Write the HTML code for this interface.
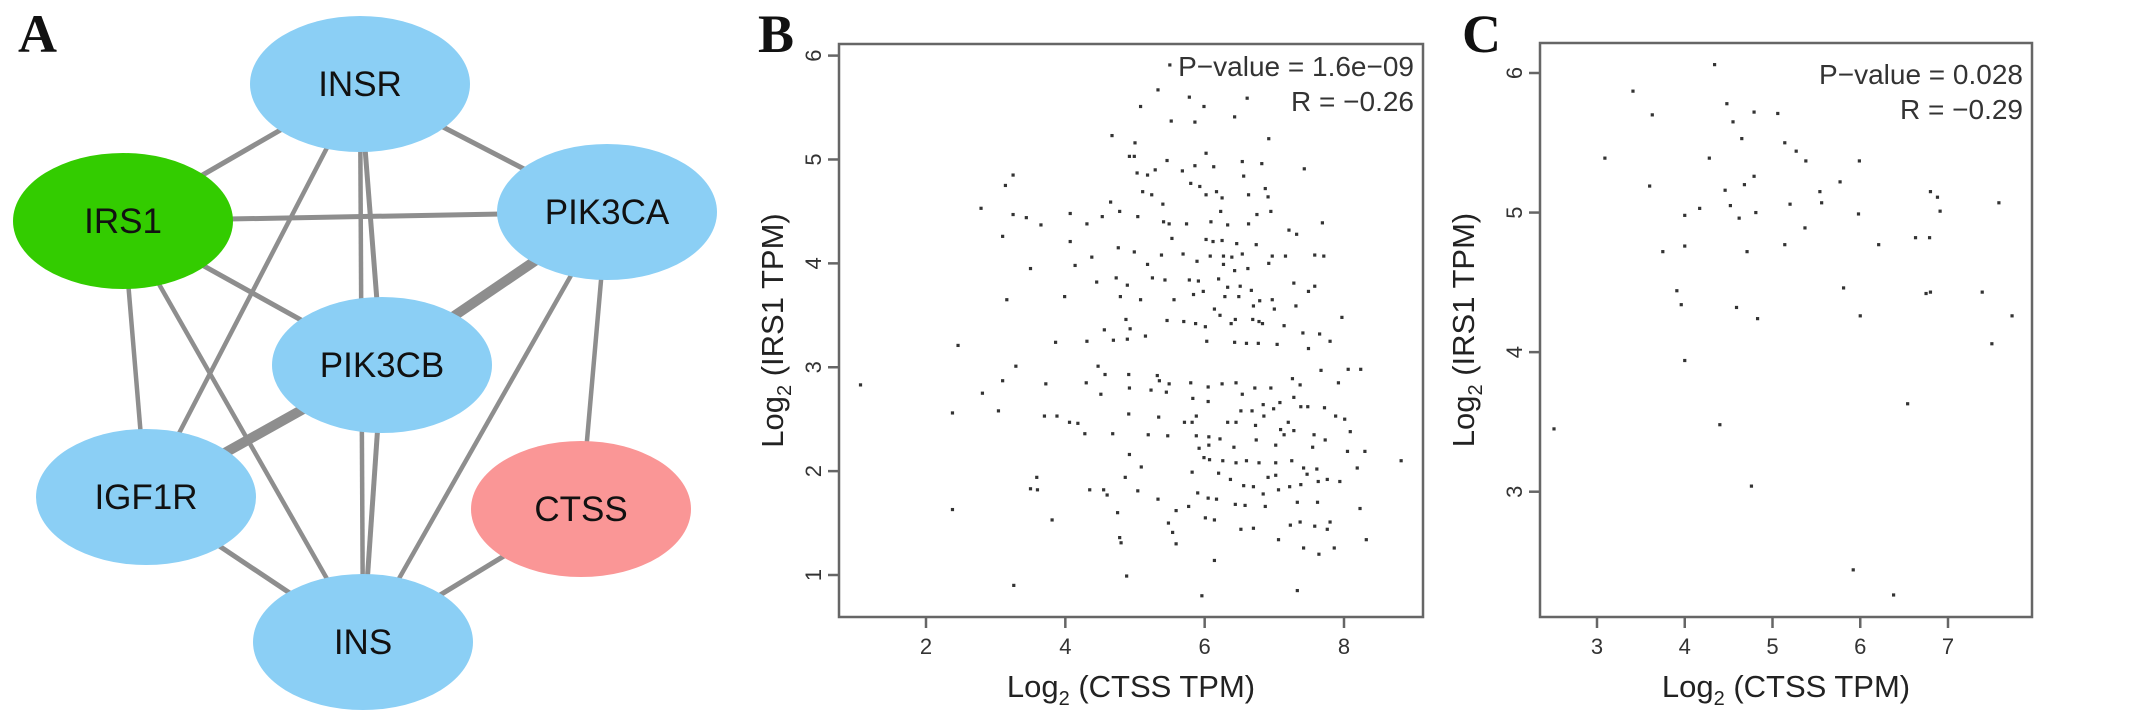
<!DOCTYPE html>
<html><head><meta charset="utf-8">
<style>
html,body{margin:0;padding:0;background:#fff;}
svg{display:block;font-family:"Liberation Sans",Arial,sans-serif;}
</style></head>
<body>
<svg id="fig" width="2150" height="725" viewBox="0 0 2150 725" xmlns="http://www.w3.org/2000/svg">
  <g id="panelA"></g>
  <g id="panelB"></g>
  <g id="panelC"></g>
</svg>
<script>
// ---------- Panel A: network data ----------
const nodeNames = ["INSR","IRS1","PIK3CA","PIK3CB","IGF1R","CTSS","INS"];
const nodeColors = ["#8bcff5","#33cc00","#8bcff5","#8bcff5","#8bcff5","#fa9696","#8bcff5"];
const nodeCx = [360,123,607,382,146,581,363];
const nodeCy = [84,221,212,365,497,509,642];
const edgeFrom = ["INSR","INSR","INSR","INSR","INSR","IRS1","IRS1","IRS1","IRS1","PIK3CA","PIK3CA","PIK3CA","PIK3CB","PIK3CB","IGF1R","CTSS"];
const edgeTo   = ["IRS1","PIK3CA","IGF1R","PIK3CB","INS","PIK3CA","PIK3CB","IGF1R","INS","PIK3CB","INS","CTSS","INS","IGF1R","INS","INS"];
const edgeWidth = [5,5,4.5,5,4.5,5,5,4.5,4.5,10,4.5,4.5,5,10,5,5];

// ---------- Panel B data ----------
const bx = [1.06,2.46,2.38,2.38,3.26,2.79,3.14,3.25,3.25,3.44,3.65,3.10,3.50,3.16,3.29,3.10,2.81,3.04,3.70,3.72,3.86,3.50,3.60,3.59,3.81,
5.50,5.33,5.78,6.61,5.08,5.99,6.43,5.52,5.86,4.67,6.92,5.00,4.92,4.99,6.02,6.54,6.82,5.46,5.03,5.18,5.29,5.68,5.86,6.13,7.43,6.56,5.80,5.93,6.87,5.11,5.24,6.17,6.25,6.02,6.63,6.91,4.65,5.40,6.23,4.07,4.78,5.04,4.53,5.41,5.49,4.31,5.74,6.09,6.33,6.63,6.75,6.95,7.21,7.32,7.69,4.07,5.53,6.02,6.12,6.25,6.46,6.74,4.76,4.99,5.38,5.69,6.08,6.27,6.39,6.54,6.97,7.16,7.58,7.71,4.38,4.14,5.18,5.89,6.27,6.43,6.62,6.92,4.73,4.45,4.89,5.25,5.43,5.78,5.91,6.20,6.33,6.51,6.67,7.28,7.49,7.58,5.84,5.98,6.29,6.49,6.79,6.97,3.99,4.79,5.08,5.56,6.14,6.22,6.70,7.00,7.31,6.69,6.78,4.87,4.93,5.15,5.46,5.70,5.87,6.01,6.38,6.44,6.83,7.14,7.41,7.65,7.97,4.56,4.31,4.69,4.89,6.03,6.43,6.60,6.77,7.04,7.49,7.80,8.24,8.06,4.47,4.57,4.91,5.32,5.35,5.49,5.80,6.05,6.25,6.45,6.72,6.95,7.26,7.37,7.67,7.92,4.30,4.51,4.92,5.23,5.45,5.83,6.05,6.54,6.84,7.08,7.28,7.48,7.72,3.88,4.91,5.34,5.88,6.52,6.68,6.85,6.99,7.20,7.38,7.88,8.01,4.06,4.18,4.28,4.68,5.19,5.47,5.71,5.82,6.33,6.45,6.73,7.09,7.28,7.57,8.09,5.88,6.06,6.22,6.74,7.14,7.73,5.92,6.06,6.42,7.02,7.55,6.07,6.26,6.45,6.60,6.78,7.02,7.25,7.42,7.61,8.05,8.30,8.19,8.82,4.92,5.09,5.99,5.82,6.20,5.04,4.86,4.55,4.60,5.33,5.77,5.90,6.05,6.17,6.37,6.56,6.70,6.84,6.91,7.06,7.22,7.38,7.47,7.63,7.76,7.94,7.02,6.44,6.58,6.70,6.87,7.33,7.62,8.23,4.75,5.59,6.01,6.14,5.48,6.52,7.23,7.37,7.58,7.76,7.80,4.78,4.80,5.59,7.06,7.42,7.64,7.86,8.32,6.14,4.88,7.33,5.96,5.54,4.35];
const by = [2.83,3.21,2.56,1.63,0.90,4.53,4.75,4.85,4.47,4.44,4.37,4.26,3.95,3.65,3.01,2.87,2.75,2.58,2.53,2.84,3.24,1.83,1.82,1.94,1.53,
5.91,5.67,5.60,5.59,5.51,5.51,5.41,5.37,5.36,5.23,5.20,5.16,5.03,5.03,5.06,4.98,4.96,4.99,4.87,4.85,4.90,4.89,4.94,4.93,4.91,4.84,4.77,4.74,4.72,4.69,4.66,4.69,4.63,4.66,4.66,4.64,4.59,4.57,4.50,4.48,4.50,4.45,4.45,4.40,4.38,4.38,4.38,4.40,4.37,4.38,4.47,4.50,4.32,4.28,4.39,4.21,4.24,4.23,4.21,4.22,4.19,4.18,4.15,4.11,4.08,4.09,4.07,4.07,4.06,4.09,4.07,4.07,4.08,4.07,4.06,3.98,3.99,4.02,3.99,3.93,3.95,4.00,3.86,3.82,3.79,3.86,3.84,3.84,3.83,3.85,3.77,3.78,3.74,3.81,3.73,3.78,3.70,3.73,3.68,3.68,3.64,3.65,3.68,3.68,3.65,3.65,3.56,3.50,3.59,3.56,3.59,3.46,3.44,3.46,3.37,3.30,3.45,3.44,3.42,3.39,3.42,3.46,3.42,3.40,3.33,3.32,3.48,3.36,3.25,3.26,3.27,3.25,3.24,3.23,3.23,3.22,3.18,3.25,2.98,2.98,3.01,2.93,2.93,2.92,2.87,2.84,2.85,2.81,2.84,2.85,2.80,2.80,2.89,2.83,2.97,2.85,2.85,2.74,2.80,2.78,2.76,2.70,2.67,2.74,2.64,2.66,2.71,2.62,2.61,2.53,2.55,2.52,2.53,2.58,2.58,2.53,2.60,2.47,2.62,2.53,2.50,2.47,2.46,2.36,2.36,2.35,2.34,2.47,2.47,2.47,2.47,2.44,2.40,2.39,2.35,2.38,2.34,2.33,2.31,2.30,2.35,2.30,2.22,2.25,2.23,2.25,2.23,2.11,2.10,2.08,2.10,2.08,2.08,2.10,2.03,2.02,2.19,2.19,2.03,2.10,2.16,2.04,2.13,1.99,1.98,1.81,1.94,1.82,1.77,1.73,1.66,1.79,1.74,1.73,1.92,1.86,1.85,1.78,1.94,1.82,1.85,1.87,1.97,1.90,1.92,1.90,1.96,1.68,1.67,1.45,1.66,1.70,1.70,1.64,1.60,1.62,1.55,1.53,1.50,1.44,1.48,1.51,1.47,1.44,1.51,1.36,1.31,1.30,1.34,1.26,1.20,1.26,1.34,1.14,0.99,0.85,0.80,1.41,1.82];
const bXTicks = [2,4,6,8];
const bYTicks = [1,2,3,4,5,6];
const bStats = ["P\u2212value = 1.6e\u221209","R = \u22120.26"];

// ---------- Panel C data ----------
const cx = [4.34,3.41,3.63,3.09,3.60,4.48,4.55,4.79,5.06,4.65,4.28,5.14,5.27,5.38,4.79,4.68,4.46,4.52,4.17,4.00,4.62,4.81,5.20,5.54,5.56,5.77,5.99,5.98,5.37,4.00,3.75,4.71,5.14,6.21,6.63,6.79,6.80,6.88,6.91,7.58,3.91,3.96,4.59,4.83,5.81,6.00,6.75,6.80,7.39,7.73,7.50,4.00,6.54,2.51,4.40,4.76,5.92,6.38];
const cy = [6.06,5.87,5.70,5.39,5.19,5.78,5.65,5.72,5.71,5.53,5.39,5.50,5.44,5.37,5.26,5.20,5.16,5.05,5.03,4.98,4.96,5.00,5.06,5.15,5.07,5.22,5.37,4.99,4.89,4.76,4.72,4.72,4.77,4.77,4.82,4.82,5.15,5.11,5.01,5.07,4.44,4.34,4.32,4.24,4.46,4.26,4.42,4.43,4.43,4.26,4.06,3.94,3.63,3.45,3.48,3.04,2.44,2.26];
const cXTicks = [3,4,5,6,7];
const cYTicks = [3,4,5,6];
const cStats = ["P\u2212value = 0.028","R = \u22120.29"];

const NS = "http://www.w3.org/2000/svg";
function mk(tag, attrs, parent){ const e=document.createElementNS(NS,tag); for(const k in attrs) e.setAttribute(k,attrs[k]); parent.appendChild(e); return e; }

// ---------- draw panel A ----------
const A = document.getElementById('panelA');
const lab = mk('text',{x:18,y:52,'font-family':'"Liberation Serif",serif','font-weight':'bold','font-size':54,fill:'#111'},A);
lab.textContent='A';


const idx = n => nodeNames.indexOf(n);
for(let i=0;i<edgeFrom.length;i++){
  const a=idx(edgeFrom[i]), b=idx(edgeTo[i]);
  const l=mk('line',{x1:nodeCx[a],y1:nodeCy[a],x2:nodeCx[b],y2:nodeCy[b],stroke:'#8e8e8e','stroke-width':edgeWidth[i]},A);
  
  
}
for(let i=0;i<nodeNames.length;i++){
  const g=mk('g',{},A);
  
  
  mk('ellipse',{cx:nodeCx[i],cy:nodeCy[i],rx:110,ry:68,fill:nodeColors[i]},g);
  const t=mk('text',{x:nodeCx[i],y:nodeCy[i]+12,'text-anchor':'middle','font-size':35,fill:'#111'},g);
  t.textContent=nodeNames[i];
}

// ---------- scatter helper ----------
function scatter(G, P, xs, ys, xt, yt, stats, letter, name){
  const sx = v => P.x0 + (v-P.xa)*(P.x1-P.x0)/(P.xb-P.xa);
  const sy = v => P.y0 + (v-P.ya)*(P.y1-P.y0)/(P.yb-P.ya);
  const L=mk('text',{x:P.letterX,y:52,'font-family':'"Liberation Serif",serif','font-weight':'bold','font-size':54,fill:'#111'},G);
  L.textContent=letter;
  
  
  for(let i=0;i<xs.length;i++){
    const d=mk('rect',{x:sx(xs[i])-1.6,y:sy(ys[i])-1.6,width:3.2,height:3.2,fill:'#333'},G);
    
    
  }
  const fr=mk('rect',{x:P.L,y:P.T,width:P.R-P.L,height:P.B-P.T,fill:'none',stroke:'#666','stroke-width':2.5},G);
  
  
  xt.forEach(v=>{
    mk('line',{x1:sx(v),y1:P.B,x2:sx(v),y2:P.B+11,stroke:'#666','stroke-width':2.5},G);
    const t=mk('text',{x:sx(v),y:P.B+37,'text-anchor':'middle','font-size':22,fill:'#333'},G);
    t.textContent=v;
    
    
  });
  yt.forEach(v=>{
    mk('line',{x1:P.L,y1:sy(v),x2:P.L-11,y2:sy(v),stroke:'#666','stroke-width':2.5},G);
    const t=mk('text',{x:P.L-18,y:sy(v),'text-anchor':'middle','font-size':22,fill:'#333',transform:`rotate(-90 ${P.L-18} ${sy(v)})`},G);
    t.textContent=v;
    
    
  });
  const xt2=mk('text',{x:(P.L+P.R)/2,y:697,'text-anchor':'middle','font-size':31,fill:'#222'},G);
  xt2.innerHTML='Log<tspan font-size="20" dy="8">2</tspan><tspan dy="-8"> (CTSS TPM)</tspan>';
  
  
  const yx=P.yTitleX, yy=(P.T+P.B)/2;
  const yt2=mk('text',{x:yx,y:yy,'text-anchor':'middle','font-size':31,fill:'#222',transform:`rotate(-90 ${yx} ${yy})`},G);
  yt2.innerHTML='Log<tspan font-size="20" dy="8">2</tspan><tspan dy="-8"> (IRS1 TPM)</tspan>';
  
  
  stats.forEach((s,i)=>{
    const t=mk('text',{x:P.R-9,y:P.statY+i*35,'text-anchor':'end','font-size':28,fill:'#333'},G);
    t.textContent=s;
    
    
  });
}

scatter(document.getElementById('panelB'),
  {L:839,R:1423,T:44,B:617, x0:926,x1:1344,xa:2,xb:8, y0:575,y1:55.6,ya:1,yb:6, letterX:758, yTitleX:783, statY:76},
  bx,by,bXTicks,bYTicks,bStats,'B','b');
scatter(document.getElementById('panelC'),
  {L:1540,R:2032,T:43,B:617, x0:1597,x1:1948,xa:3,xb:7, y0:491.7,y1:73,ya:3,yb:6, letterX:1462, yTitleX:1474, statY:84},
  cx,cy,cXTicks,cYTicks,cStats,'C','c');
</script>
</body></html>
